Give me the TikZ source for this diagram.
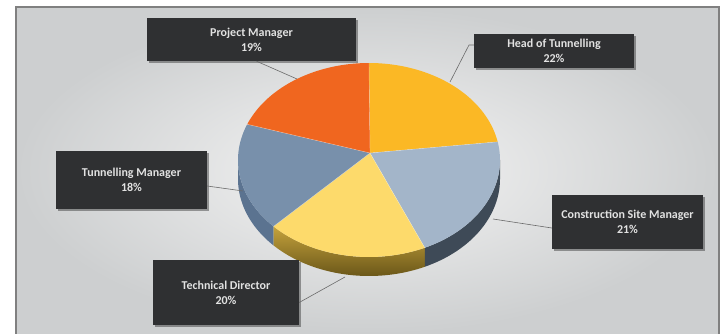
\documentclass[tikz,border=0pt]{standalone}
\usepackage{fontspec}
\setmainfont{Carlito}
\usetikzlibrary{shadows}
\definecolor{cHead}{HTML}{FBB825}
\definecolor{cCons}{HTML}{A3B5C9}
\definecolor{cTech}{HTML}{FDDA6B}
\definecolor{cTunn}{HTML}{7890AB}
\definecolor{cProj}{HTML}{F0661F}
\definecolor{sTunn}{HTML}{5B7390}
\definecolor{sTechTop}{HTML}{C4A23C}
\definecolor{sTechBot}{HTML}{6B5719}
\definecolor{sCons}{HTML}{3E4A57}
\definecolor{boxfill}{HTML}{2F3032}
\definecolor{boxtext}{HTML}{E2E2E2}
\definecolor{frameline}{HTML}{808080}
\definecolor{bgin}{HTML}{F5F5F5}
\definecolor{bgout}{HTML}{CDCFD0}
\definecolor{leader}{HTML}{6A6A6A}
\tikzset{
  labelbox/.style={fill=boxfill, text=boxtext, inner sep=0pt, align=center,
    font=\fontsize{12}{15}\selectfont\bfseries,
    drop shadow={shadow xshift=2pt, shadow yshift=-2pt, opacity=0.35, fill=black}},
  leaderline/.style={draw=leader, line width=0.6pt},
  sliceedge/.style={draw=white, draw opacity=0.45, line width=0.4pt}
}
\begin{document}
\begin{tikzpicture}[x=1pt,y=-1pt]
\useasboundingbox (0,0) rectangle (723,334);
\fill[white] (0,0) rectangle (723,334);
\shade[inner color=bgin, outer color=bgout] (16,7) rectangle (719,334);
\draw[frameline, line width=1.8pt] (16,334) -- (16,7) -- (719,7) -- (719,334);

\def\cx{369}\def\cy{160}\def\rx{131}\def\ry{97}\def\hh{19}
\coordinate (apex) at (370,153);

% sides
\fill[sTunn] plot[domain=180:223.2,samples=30] ({\cx+\rx*cos(\x)},{\cy-\ry*sin(\x)})
  -- plot[domain=223.2:180,samples=30] ({\cx+\rx*cos(\x)},{\cy+\hh-\ry*sin(\x)}) -- cycle;
\shade[top color=sTechTop, bottom color=sTechBot] plot[domain=223.2:295.2,samples=40] ({\cx+\rx*cos(\x)},{\cy-\ry*sin(\x)})
  -- plot[domain=295.2:223.2,samples=40] ({\cx+\rx*cos(\x)},{\cy+\hh-\ry*sin(\x)}) -- cycle;
\fill[sCons] plot[domain=295.2:360,samples=40] ({\cx+\rx*cos(\x)},{\cy-\ry*sin(\x)})
  -- plot[domain=360:295.2,samples=40] ({\cx+\rx*cos(\x)},{\cy+\hh-\ry*sin(\x)}) -- cycle;

% top slices
\fill[cHead] (apex) -- plot[domain=90:10.8,samples=40] ({\cx+\rx*cos(\x)},{\cy-\ry*sin(\x)}) -- cycle;
\fill[cCons] (apex) -- plot[domain=10.8:-64.8,samples=40] ({\cx+\rx*cos(\x)},{\cy-\ry*sin(\x)}) -- cycle;
\fill[cTech] (apex) -- plot[domain=-64.8:-136.8,samples=40] ({\cx+\rx*cos(\x)},{\cy-\ry*sin(\x)}) -- cycle;
\fill[cTunn] (apex) -- plot[domain=-136.8:-201.6,samples=40] ({\cx+\rx*cos(\x)},{\cy-\ry*sin(\x)}) -- cycle;
\fill[cProj] (apex) -- plot[domain=158.4:90,samples=40] ({\cx+\rx*cos(\x)},{\cy-\ry*sin(\x)}) -- cycle;
\foreach \a in {90,10.8,-64.8,-136.8,158.4}
  \draw[sliceedge] (apex) -- ({\cx+\rx*cos(\a)},{\cy-\ry*sin(\a)});

% label boxes
\node[labelbox, minimum width=209pt, minimum height=43pt] (pm) at (251.5,39.5) {Project Manager\\19\%};
\node[labelbox, minimum width=160pt, minimum height=34pt] (ht) at (554,51) {Head of Tunnelling\\22\%};
\node[labelbox, minimum width=151pt, minimum height=58pt] (tm) at (131.5,180) {Tunnelling Manager\\18\%};
\node[labelbox, minimum width=151pt, minimum height=54pt] (cs) at (627.5,222) {Construction Site Manager\\21\%};
\node[labelbox, minimum width=146pt, minimum height=65pt] (td) at (226,292.5) {Technical Director\\20\%};

% leader lines
\coordinate (pmA) at (297,79);
\coordinate (htA) at (450,82);
\coordinate (htB) at (469,45);
\coordinate (tmA) at (243,191);
\coordinate (csA) at (493,219);
\coordinate (tdA) at (345,277);
\draw[leaderline] ([xshift=5pt]pm.south) -- (pmA);
\draw[leaderline] ([yshift=6pt]ht.west) -- (htB) -- (htA);
\draw[leaderline] ([yshift=-6pt]tm.east) -- (tmA);
\draw[leaderline] ([yshift=-6pt]cs.west) -- (csA);
\draw[leaderline] ([yshift=-10pt]td.east) -- (tdA);
\end{tikzpicture}
\end{document}
